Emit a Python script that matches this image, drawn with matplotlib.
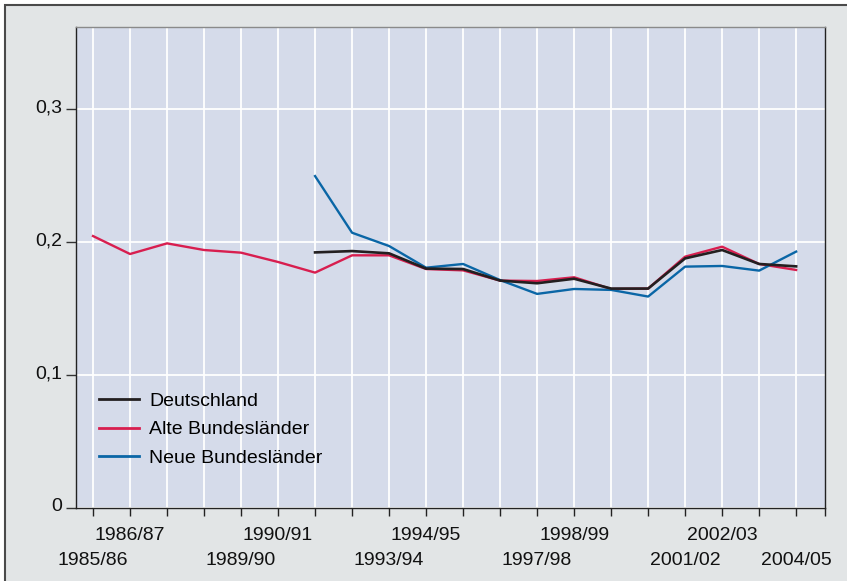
import matplotlib
matplotlib.use("Agg")
import matplotlib.pyplot as plt
from matplotlib.patches import Rectangle
import numpy as np

plt.rcParams['font.family'] = ['Liberation Sans', 'DejaVu Sans']

years = ["1985/86", "1986/87", "1987/88", "1988/89", "1989/90", "1990/91",
         "1991/92", "1992/93", "1993/94", "1994/95", "1995/96", "1996/97",
         "1997/98", "1998/99", "1999/00", "2000/01", "2001/02", "2002/03",
         "2003/04", "2004/05"]
upper_labels = ["1986/87", "1990/91", "1994/95", "1998/99", "2002/03"]
lower_labels = ["1985/86", "1989/90", "1993/94", "1997/98", "2001/02", "2004/05"]

alte = [0.2045, 0.191, 0.199, 0.194, 0.192, 0.185, 0.177, 0.190, 0.190, 0.1797,
        0.1787, 0.171, 0.1707, 0.1735, 0.1647, 0.165, 0.189, 0.1965, 0.1835, 0.179]
deutschland = [None]*6 + [0.1922, 0.1932, 0.1915, 0.180, 0.1797, 0.171, 0.169,
                          0.1724, 0.165, 0.165, 0.1877, 0.194, 0.1835, 0.1817]
neue = [None]*6 + [0.2496, 0.207, 0.197, 0.1807, 0.1835, 0.1714, 0.161, 0.1647,
                   0.164, 0.159, 0.1815, 0.182, 0.1785, 0.1928]

yticks = [0, 0.1, 0.2, 0.3]
ytick_labels = ["0", "0,1", "0,2", "0,3"]

W, H = 847, 581
FS = 14
fig = plt.figure(figsize=(W/100, H/100), dpi=100, facecolor='white')
bg = Rectangle((5/W, -0.1), 1.2, (H-5)/H + 0.1, transform=fig.transFigure,
               facecolor='#e2e5e6', edgecolor='#4a4a4a', linewidth=1.5, zorder=-10)
fig.add_artist(bg)

ax = fig.add_axes([76/W, 1-508/H, 749/W, 481/H])
ax.set_zorder(1)
ax.set_facecolor('#d5dbea')

x = np.arange(len(years))
def arr(v):
    return np.array([np.nan if a is None else a for a in v], dtype=float)

ax.plot(x, arr(alte), color='#d81e4f', lw=1.7, label='Alte Bundesländer', zorder=3)
ax.plot(x, arr(deutschland), color='#231f20', lw=1.9, label='Deutschland', zorder=4)
ax.plot(x, arr(neue), color='#0a66a6', lw=1.7, label='Neue Bundesländer', zorder=3)

ax.set_xlim(-0.46, 19.78)
ax.set_ylim(0, 0.3617)

ax.set_xticks(x)
ax.set_xticklabels([])
ax.set_xticks([19.78], minor=True)
ax.tick_params(axis='x', which='both', direction='out', length=6, width=1, color='#222222')
ax.set_yticks(yticks)
ax.set_yticklabels([])
ax.tick_params(axis='y', direction='out', length=7, width=1, color='#333333')

ax.grid(True, which='major', color='white', lw=1.3)
ax.set_axisbelow(True)

for s in ['left', 'right', 'bottom']:
    ax.spines[s].set_color('#222222')
    ax.spines[s].set_linewidth(1.0)
ax.spines['top'].set_color('#8a8a8a')
ax.spines['top'].set_linewidth(1.0)

for i, y in enumerate(years):
    if y in upper_labels:
        ax.annotate(y, xy=(i, 0), xycoords=('data', 'axes fraction'),
                    xytext=(0, -32), textcoords='offset pixels',
                    ha='center', va='baseline', fontsize=FS, color='#111111')
    elif y in lower_labels:
        ax.annotate(y, xy=(i, 0), xycoords=('data', 'axes fraction'),
                    xytext=(0, -57), textcoords='offset pixels',
                    ha='center', va='baseline', fontsize=FS, color='#111111')

for v, lab in zip(yticks, ytick_labels):
    ax.annotate(lab, xy=(0, v), xycoords=('axes fraction', 'data'),
                xytext=(-14, -3), textcoords='offset pixels',
                ha='right', va='baseline', fontsize=FS, color='#111111')

h, l = ax.get_legend_handles_labels()
order = [1, 0, 2]
leg = ax.legend([h[k] for k in order], [l[k] for k in order],
                loc='upper left', bbox_to_anchor=(23/749, 1-(392-27)/481),
                frameon=False, fontsize=FS, handlelength=2.05, handletextpad=0.52,
                labelspacing=0.57, borderaxespad=0, borderpad=0)
for line in leg.get_lines():
    line.set_linewidth(2.0)

fig.savefig('out.png', dpi=100, facecolor=fig.get_facecolor())
